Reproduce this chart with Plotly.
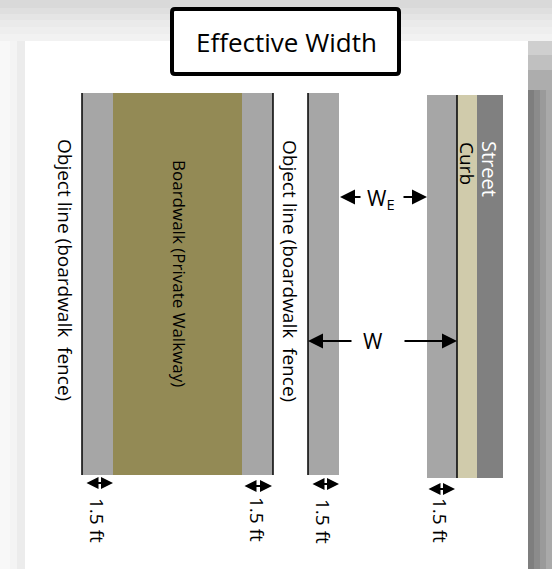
import plotly.graph_objects as go

# ---- diagram data (picture coordinates, px) ----
band_names = ["fence_gray_L", "boardwalk", "fence_gray_R", "mid_gray", "curb_gray", "curb", "street"]
band_x0 = [82, 113, 242, 308, 427, 457, 477]
band_x1 = [113, 242, 273, 339, 457, 477, 503]
band_y0 = [93, 93, 93, 93, 95, 95, 95]
band_y1 = [475, 475, 475, 475, 478, 478, 478]
band_colors = ["#a6a6a6", "#938a55", "#a6a6a6", "#a6a6a6", "#a6a6a6", "#d0cbab", "#808080"]

object_lines_x = [82, 273, 308, 457]
object_lines_y0 = [93, 93, 93, 95]
object_lines_y1 = [475, 475, 475, 478]

vertical_labels = ["Object line (boardwalk  fence)", "Boardwalk (Private Walkway)",
                   "Object line (boardwalk  fence)", "Curb", "Street"]
vertical_label_x = [65, 180, 290, 467, 490]
vertical_label_y = [270, 273, 271, 163, 169]
vertical_label_sizes = [19, 17, 19, 19, 20]
vertical_label_colors = ["#000000", "#000000", "#000000", "#000000", "#ffffff"]

buffer_label = "1.5 ft"
buffer_x0 = [85, 243, 311, 427]
buffer_x1 = [113, 272, 339, 455]
buffer_y = [483, 486, 484, 489]
buffer_text_x = [97, 257, 323, 440]
buffer_text_y = [520, 519, 521, 520]

title_text = "Effective Width"

fig = go.Figure()

shapes = []
# background decorations
top_bands = [(0, 8, "#d9d9d9"), (8, 14, "#dfdfdf"), (14, 20, "#e5e5e5"), (20, 27, "#eaeaea"),
             (27, 34, "#eeeeee"), (34, 41, "#f2f2f2")]
for y0, y1, c in top_bands:
    shapes.append(dict(type="rect", xref="x", yref="y", x0=0, x1=552, y0=y0, y1=y1,
                       fillcolor=c, line=dict(width=0), layer="below"))
left_bands = [(0, 10, "#f8f8f8"), (10, 17, "#f4f4f4"), (17, 25, "#ececec")]
for x0, x1, c in left_bands:
    shapes.append(dict(type="rect", xref="x", yref="y", x0=x0, x1=x1, y0=41, y1=569,
                       fillcolor=c, line=dict(width=0), layer="below"))
right_cols = [(528, 534, "#7e7e7e"), (534, 540, "#8b8b8b"), (540, 546, "#9a9a9a"), (546, 552, "#a9a9a9")]
for x0, x1, c in right_cols:
    shapes.append(dict(type="rect", xref="x", yref="y", x0=x0, x1=x1, y0=90, y1=569,
                       fillcolor=c, line=dict(width=0), layer="below"))
right_top = [(41, 55, "#cfcfcf"), (55, 70, "#c0c0c0"), (70, 90, "#adadad")]
for y0, y1, c in right_top:
    shapes.append(dict(type="rect", xref="x", yref="y", x0=528, x1=552, y0=y0, y1=y1,
                       fillcolor=c, line=dict(width=0), layer="below"))
# white panel
shapes.append(dict(type="rect", xref="x", yref="y", x0=25, x1=528, y0=41, y1=569,
                   fillcolor="#ffffff", line=dict(width=0), layer="below"))

# bands
for x0, x1, y0, y1, c in zip(band_x0, band_x1, band_y0, band_y1, band_colors):
    shapes.append(dict(type="rect", xref="x", yref="y", x0=x0, x1=x1, y0=y0, y1=y1,
                       fillcolor=c, line=dict(width=0)))
# object lines
for x, y0, y1 in zip(object_lines_x, object_lines_y0, object_lines_y1):
    shapes.append(dict(type="line", xref="x", yref="y", x0=x, x1=x, y0=y0, y1=y1,
                       line=dict(color="#000000", width=1.5)))
# title box (rounded corners)
bx0, bx1, by0, by1, r = 172, 399, 9, 74, 3
box_path = (f"M {bx0+r},{by0} L {bx1-r},{by0} Q {bx1},{by0} {bx1},{by0+r} "
            f"L {bx1},{by1-r} Q {bx1},{by1} {bx1-r},{by1} L {bx0+r},{by1} "
            f"Q {bx0},{by1} {bx0},{by1-r} L {bx0},{by0+r} Q {bx0},{by0} {bx0+r},{by0} Z")
shapes.append(dict(type="path", xref="x", yref="y", path=box_path,
                   fillcolor="#ffffff", line=dict(color="#000000", width=4)))

annotations = []
annotations.append(dict(x=286, y=42, xref="x", yref="y", text=title_text, showarrow=False,
                        font=dict(family="Open Sans", size=26, color="#000000")))
for t, x, y, s, c in zip(vertical_labels, vertical_label_x, vertical_label_y,
                         vertical_label_sizes, vertical_label_colors):
    annotations.append(dict(x=x, y=y, xref="x", yref="y", text=t, showarrow=False, textangle=90,
                            font=dict(family="Open Sans", size=s, color=c)))

arrow_style = dict(showarrow=True, arrowhead=2, arrowsize=1.5, arrowwidth=2, arrowcolor="#000000",
                   xref="x", yref="y", axref="x", ayref="y", text="")
# W_E
annotations.append(dict(x=340, y=197, ax=362, ay=197, **arrow_style))
annotations.append(dict(x=427, y=197, ax=402, ay=197, **arrow_style))
annotations.append(dict(x=381, y=199, xref="x", yref="y", text="W<sub>E</sub>", showarrow=False,
                        font=dict(family="Open Sans", size=21, color="#000000")))
# W
annotations.append(dict(x=308, y=341, ax=353, ay=341, **arrow_style))
annotations.append(dict(x=457, y=341, ax=403, ay=341, **arrow_style))
annotations.append(dict(x=373, y=341, xref="x", yref="y", text="W", showarrow=False,
                        font=dict(family="Open Sans", size=21, color="#000000")))
# 1.5 ft buffers
buffer_arrow = dict(arrow_style, arrowsize=1.2)
for x0, x1, y, tx, ty in zip(buffer_x0, buffer_x1, buffer_y, buffer_text_x, buffer_text_y):
    annotations.append(dict(x=x1, y=y, ax=x0, ay=y, arrowside="end+start", **buffer_arrow))
    annotations.append(dict(x=tx, y=ty, xref="x", yref="y", text=buffer_label, showarrow=False,
                            textangle=90, font=dict(family="Open Sans", size=19, color="#000000")))

fig.update_layout(
    width=552, height=569,
    margin=dict(l=0, r=0, t=0, b=0),
    paper_bgcolor="#ffffff", plot_bgcolor="#ffffff",
    xaxis=dict(range=[0, 552], visible=False, fixedrange=True),
    yaxis=dict(range=[569, 0], visible=False, fixedrange=True),
    shapes=shapes, annotations=annotations, showlegend=False,
)

fig.write_html("out.html", config={"displayModeBar": False},
               post_script="document.body.style.margin='0';document.body.style.overflow='hidden';")
